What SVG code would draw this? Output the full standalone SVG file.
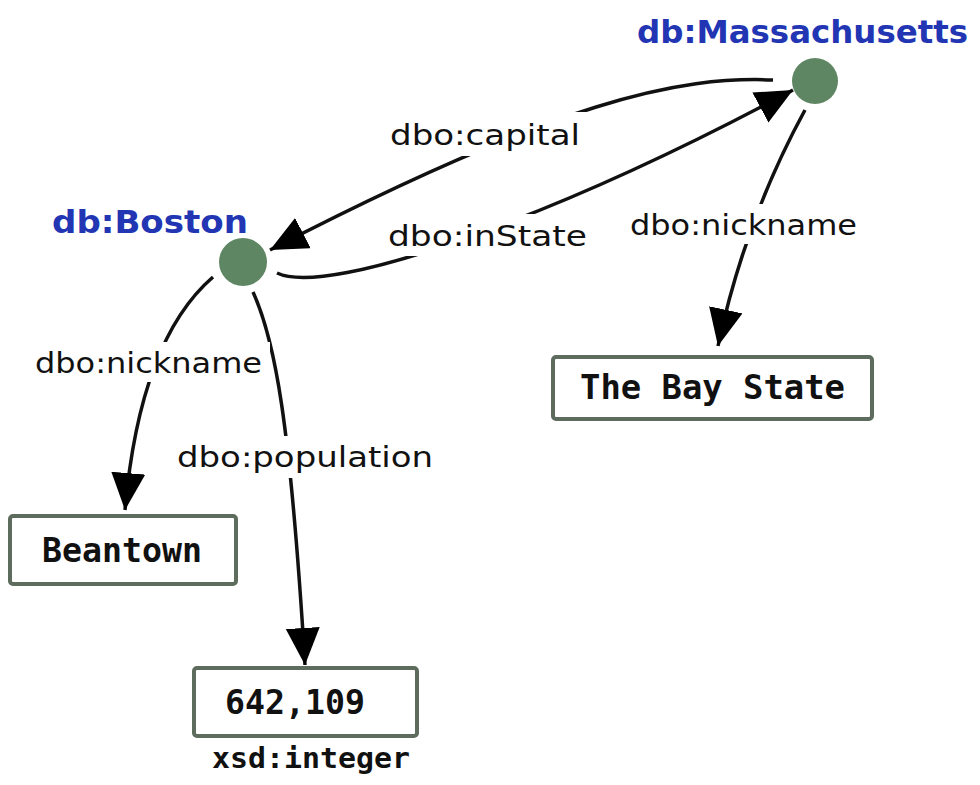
<svg xmlns="http://www.w3.org/2000/svg" width="980" height="785" viewBox="0 0 980 785">
  <style>
    .node-dot { fill: #5e8663; }
    .node-label { font-family: "DejaVu Sans", "Liberation Sans", sans-serif; font-weight: bold; font-size: 32px; fill: #2236b4; }
    .edge { fill: none; stroke: #111; stroke-width: 3.5; marker-end: url(#arrow); }
    .edge-label { font-family: "DejaVu Sans", "Liberation Sans", sans-serif; font-size: 28px; fill: #111; }
    .lit-box { fill: #fff; stroke: #5d6c5d; stroke-width: 4; }
    .lit-text { font-family: "DejaVu Sans Mono", "Liberation Mono", monospace; font-weight: bold; font-size: 33px; fill: #111; }
    .dtype { font-family: "DejaVu Sans Mono", "Liberation Mono", monospace; font-weight: bold; font-size: 29px; fill: #111; }
  </style>
  <defs>
    <marker id="arrow" markerUnits="userSpaceOnUse" markerWidth="40" markerHeight="36" refX="37" refY="17" orient="auto">
      <path d="M0,0 L37,17 L0,34 Z" fill="#000"/>
    </marker>
  </defs>
  <rect x="0" y="0" width="980" height="785" fill="#fff"/>

  <g id="connectors">
    <path class="edge" d="M773,80 C680,76 560,100 270,250"/>
    <path class="edge" d="M277,273 C330,298 560,215 793,90"/>
    <path class="edge" d="M805,110 Q745,220 718,346"/>
    <path class="edge" d="M213,277 Q140,340 125,510"/>
    <path class="edge" d="M253,292 C275,340 290,420 305,665"/>
  </g>

  <g id="edge-labels">
    <rect x="380" y="112" width="210" height="44" fill="#fff"/>
    <text class="edge-label" x="390" y="145" textLength="190" lengthAdjust="spacingAndGlyphs">dbo:capital</text>
    <rect x="378" y="214" width="220" height="42" fill="#fff"/>
    <text class="edge-label" x="388" y="246" textLength="199" lengthAdjust="spacingAndGlyphs">dbo:inState</text>
    <rect x="622" y="204" width="243" height="40" fill="#fff"/>
    <text class="edge-label" x="630" y="235" textLength="227" lengthAdjust="spacingAndGlyphs">dbo:nickname</text>
    <rect x="28" y="342" width="242" height="40" fill="#fff"/>
    <text class="edge-label" x="35" y="373" textLength="227" lengthAdjust="spacingAndGlyphs">dbo:nickname</text>
    <rect x="170" y="436" width="270" height="42" fill="#fff"/>
    <text class="edge-label" x="177" y="467" textLength="256" lengthAdjust="spacingAndGlyphs">dbo:population</text>
  </g>

  <g id="node-massachusetts">
    <circle class="node-dot" cx="815" cy="81" r="23"/>
    <text class="node-label" x="637" y="43" textLength="331" lengthAdjust="spacingAndGlyphs">db:Massachusetts</text>
  </g>

  <g id="node-boston">
    <circle class="node-dot" cx="243" cy="262" r="24"/>
    <text class="node-label" x="52" y="233" textLength="196" lengthAdjust="spacingAndGlyphs">db:Boston</text>
  </g>

  <g id="lit-baystate">
    <rect class="lit-box" x="553" y="357" width="319" height="62" rx="3"/>
    <text class="lit-text" x="580" y="399" textLength="265" lengthAdjust="spacingAndGlyphs">The Bay State</text>
  </g>

  <g id="lit-beantown">
    <rect class="lit-box" x="10" y="516" width="226" height="68" rx="3"/>
    <text class="lit-text" x="42" y="562" textLength="160" lengthAdjust="spacingAndGlyphs">Beantown</text>
  </g>

  <g id="lit-population">
    <rect class="lit-box" x="194" y="668" width="223" height="68" rx="3"/>
    <text class="lit-text" x="225" y="714" textLength="140" lengthAdjust="spacingAndGlyphs">642,109</text>
    <text class="dtype" x="212" y="768" textLength="198" lengthAdjust="spacingAndGlyphs">xsd:integer</text>
  </g>
</svg>
